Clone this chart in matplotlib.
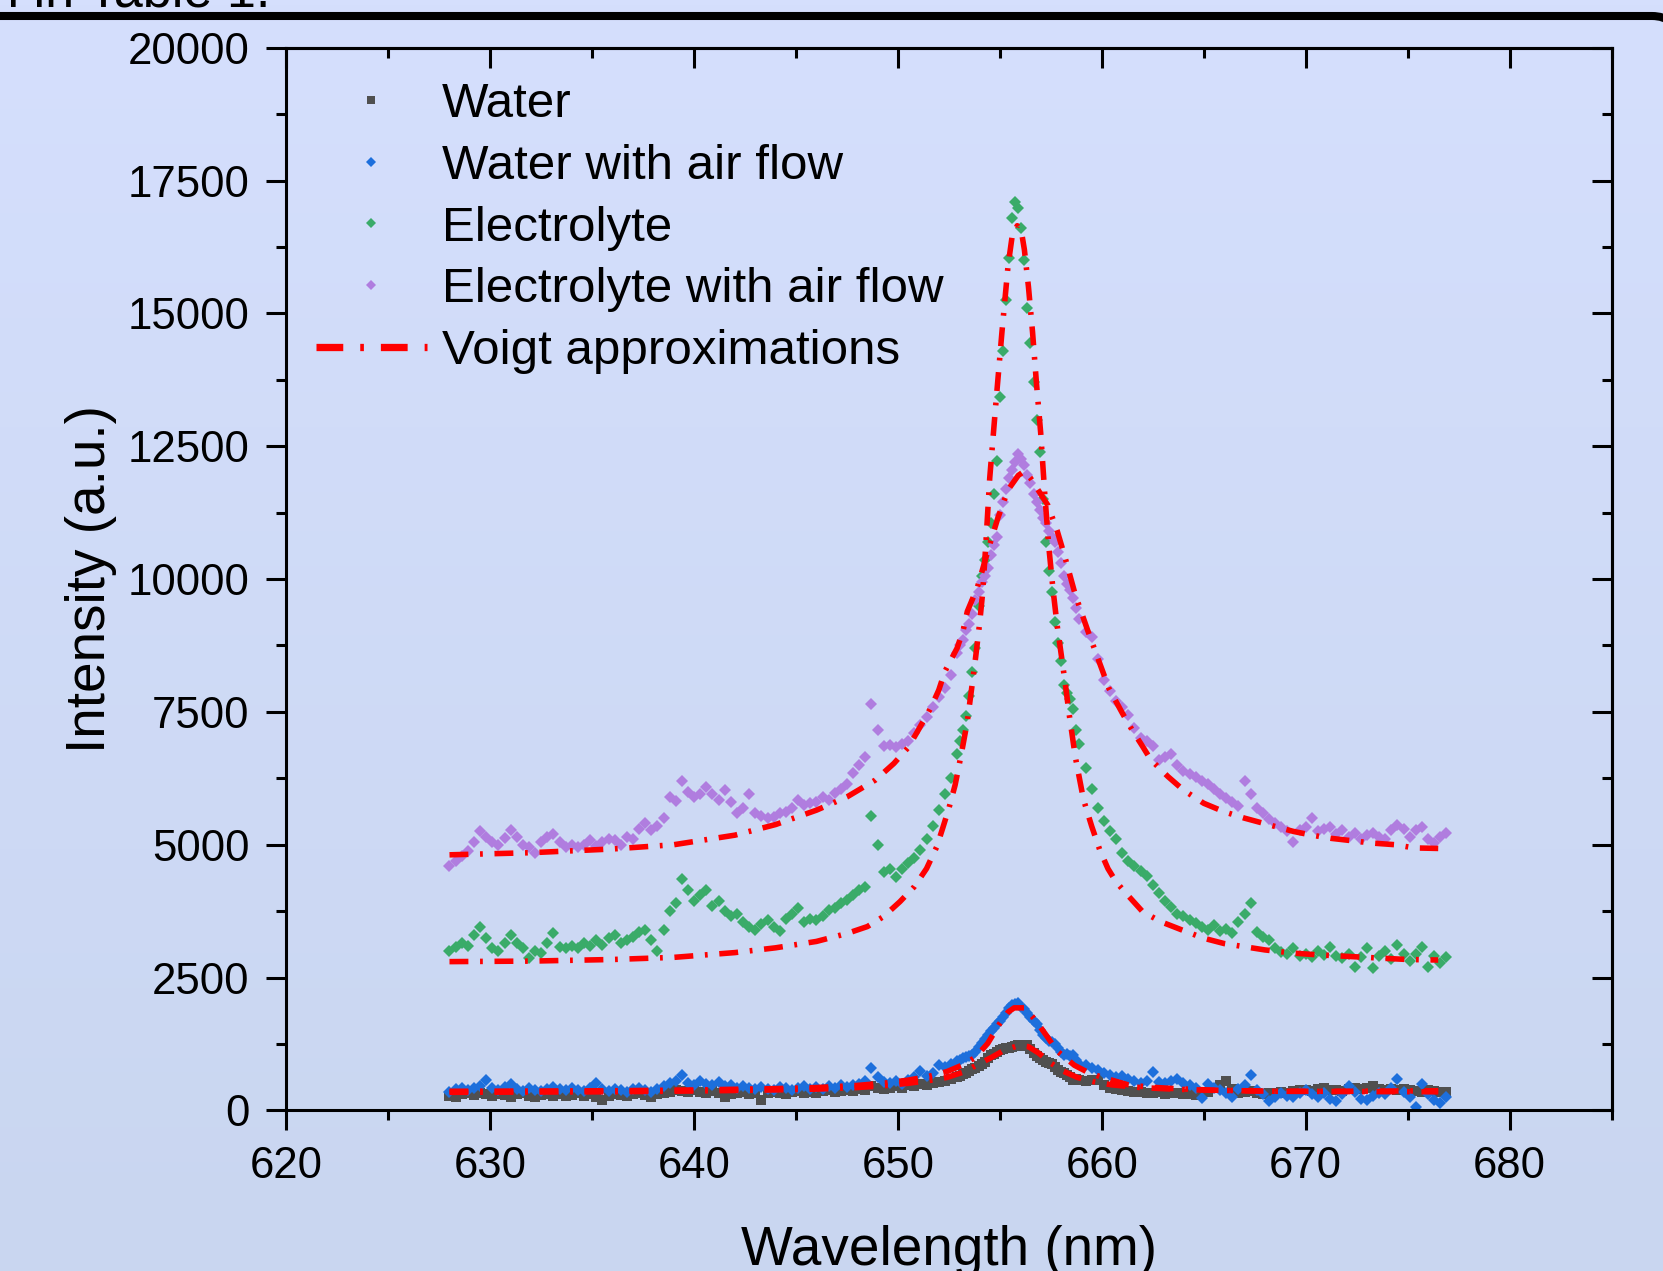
import matplotlib
matplotlib.use('Agg')
import matplotlib.pyplot as plt
import numpy as np
from matplotlib.lines import Line2D
from matplotlib.patches import PathPatch
from matplotlib.path import Path
from matplotlib.ticker import MultipleLocator

plt.rcParams['font.family'] = ['Liberation Sans', 'DejaVu Sans']

# wavelength grid of the measured spectra (nm)
wavelength = [
    628.0, 628.3, 628.6, 628.9, 629.2, 629.5, 629.8, 630.1, 630.4, 630.7,
    631.0, 631.3, 631.6, 631.9, 632.2, 632.5, 632.8, 633.1, 633.4, 633.7,
    634.0, 634.3, 634.6, 634.9, 635.2, 635.5, 635.8, 636.1, 636.4, 636.7,
    637.0, 637.3, 637.6, 637.9, 638.2, 638.5, 638.8, 639.1, 639.4, 639.7,
    640.0, 640.3, 640.6, 640.9, 641.2, 641.5, 641.8, 642.1, 642.4, 642.7,
    643.0, 643.3, 643.6, 643.9, 644.2, 644.5, 644.8, 645.1, 645.4, 645.7,
    646.0, 646.3, 646.6, 646.9, 647.2, 647.5, 647.8, 648.1, 648.4, 648.7,
    649.0, 649.3, 649.6, 649.9, 650.2, 650.5, 650.8, 651.1, 651.4, 651.7,
    652.0, 652.3, 652.6, 652.9,
    653.05, 653.2, 653.35, 653.5, 653.65, 653.8, 653.95, 654.1, 654.25, 654.4,
    654.55, 654.7, 654.85, 655.0, 655.15, 655.3, 655.45, 655.6, 655.75, 655.9,
    656.05, 656.2, 656.35, 656.5, 656.65, 656.8, 656.95, 657.1, 657.25, 657.4,
    657.55, 657.7, 657.85, 658.0, 658.15, 658.3, 658.45, 658.6, 658.75, 658.9,
    659.2, 659.5, 659.8, 660.1, 660.4, 660.7, 661.0, 661.3, 661.6, 661.9,
    662.2, 662.5, 662.8, 663.1, 663.4, 663.7, 664.0, 664.3, 664.6, 664.9,
    665.2, 665.5, 665.8, 666.1, 666.4, 666.7, 667.0, 667.3, 667.6, 667.9,
    668.2, 668.5, 668.8, 669.1, 669.4, 669.7, 670.0, 670.3, 670.6, 670.9,
    671.2, 671.5, 671.8, 672.1, 672.4, 672.7, 673.0, 673.3, 673.6, 673.9,
    674.2, 674.5, 674.8, 675.1, 675.4, 675.7, 676.0, 676.3, 676.6, 676.9,
]

water = [
    280, 250, 300, 320, 290, 330, 300, 270, 310, 290,
    260, 300, 320, 280, 250, 290, 310, 280, 300, 270,
    290, 320, 280, 300, 260, 200, 280, 310, 290, 270,
    300, 320, 290, 250, 300, 330, 350, 380, 360, 340,
    380, 350, 320, 360, 330, 250, 300, 320, 340, 300,
    330, 200, 320, 350, 330, 310, 340, 360, 330, 350,
    320, 360, 380, 350, 370, 390, 360, 400, 380, 450,
    430, 400, 420, 450, 430, 470, 450, 490, 470, 520,
    540, 560, 600, 620,
    640, 680, 700, 740, 770, 800, 830, 870, 920, 980,
    1040, 1070, 1100, 1130, 1150, 1170, 1180, 1200, 1220, 1240,
    1230, 1220, 1230, 1150, 1080, 1020, 990, 950, 920, 890,
    870, 820, 760, 720, 700, 660, 620, 580, 600, 570,
    560, 580, 570, 480, 420, 400, 380, 360, 350, 340,
    330, 320, 340, 310, 320, 330, 300, 310, 290, 330,
    350, 420, 480, 560, 400, 320, 340, 360, 330, 300,
    320, 330, 350, 320, 360, 380, 390, 370, 400, 420,
    390, 380, 360, 410, 430, 400, 420, 450, 410, 390,
    400, 380, 410, 390, 370, 350, 380, 360, 350, 340,
]

water_air = [
    350, 400, 420, 380, 430, 450, 570, 420, 380, 440,
    500, 400, 370, 420, 390, 360, 410, 440, 400, 380,
    420, 390, 370, 430, 510, 400, 360, 410, 380, 350,
    400, 420, 380, 340, 400, 450, 520, 560, 660, 520,
    480, 550, 500, 470, 530, 450, 480, 420, 460, 430,
    400, 440, 410, 380, 440, 420, 390, 430, 460, 410,
    440, 400, 450, 430, 470, 440, 480, 500, 560, 790,
    620, 540, 520, 560, 500, 580, 620, 750, 640, 700,
    850, 820, 880, 930,
    950, 980, 1000, 1030, 1045, 1100, 1200, 1270, 1350, 1420,
    1500, 1560, 1620, 1680, 1750, 1830, 1920, 1990, 2010, 2020,
    1950, 1900, 1830, 1760, 1690, 1620, 1520, 1420, 1360, 1310,
    1280, 1250, 1180, 1100, 1040, 1060, 1030, 1040, 950, 880,
    850, 800, 760, 700, 660, 620, 640, 590, 560, 510,
    560, 730, 540, 510, 560, 600, 520, 480, 420, 230,
    500, 420, 380, 330, 260, 400, 480, 670, 380, 300,
    170, 250, 320, 280, 250, 330, 390, 300, 260, 320,
    220, 170, 300, 450, 350, 220, 200, 280, 330, 300,
    420, 600, 350, 250, 60, 500, 300, 200, 140, 260,
]

electrolyte = [
    3000, 3080, 3150, 3100, 3300, 3450, 3250, 3050, 3000, 3150,
    3300, 3150, 3050, 2870, 3000, 2960, 3150, 3330, 3080, 3050,
    3100, 3060, 3150, 3100, 3200, 3120, 3250, 3300, 3150, 3200,
    3270, 3350, 3400, 3200, 3000, 3400, 3750, 3900, 4350, 4150,
    3950, 4050, 4150, 3850, 3950, 3750, 3650, 3700, 3550, 3450,
    3400, 3500, 3580, 3450, 3380, 3600, 3700, 3800, 3550, 3600,
    3580, 3650, 3770, 3800, 3900, 3960, 4050, 4150, 4200, 5550,
    5000, 4480, 4550, 4400, 4550, 4650, 4750, 4900, 5100, 5350,
    5650, 5950, 6250, 6700,
    6950, 7150, 7420, 7800, 8250, 8700, 9500, 10050, 10350, 10700,
    11050, 11600, 12230, 13430, 14300, 15250, 16050, 16800, 17100, 16980,
    16600, 16000, 15100, 14450, 13700, 13000, 12400, 11500, 10700, 10150,
    9750, 9200, 8800, 8450, 8000, 7850, 7750, 7550, 7150, 6900,
    6450, 6050, 5700, 5450, 5250, 5100, 4850, 4700, 4600, 4500,
    4420, 4250, 4100, 3950, 3820, 3700, 3650, 3580, 3520, 3450,
    3400, 3480, 3380, 3420, 3330, 3550, 3700, 3900, 3350, 3270,
    3200, 3050, 2980, 2950, 3050, 2900, 2950, 2880, 3000, 2930,
    3080, 2900, 2870, 2950, 2700, 2880, 3050, 2680, 2900, 3000,
    2850, 3120, 2950, 2820, 2950, 3080, 2700, 2900, 2780, 2880,
]

electrolyte_air = [
    4600, 4700, 4780, 4880, 5050, 5250, 5150, 5050, 5000, 5120,
    5280, 5150, 5000, 4950, 4840, 5050, 5150, 5200, 5050, 4960,
    5000, 4950, 5000, 5080, 4980, 5050, 5100, 5080, 5000, 5150,
    5100, 5300, 5400, 5280, 5350, 5500, 5900, 5820, 6200, 6000,
    5900, 5950, 6090, 5950, 5850, 6030, 5800, 5600, 5700, 5950,
    5600, 5550, 5500, 5530, 5600, 5620, 5700, 5840, 5750, 5780,
    5800, 5900, 5850, 5970, 6050, 6150, 6350, 6500, 6650, 7650,
    7150, 6850, 6880, 6840, 6900, 6960, 7100, 7250, 7400, 7600,
    7780, 7950, 8200, 8600,
    8750, 8850, 9050, 9150, 9350, 9600, 9750, 9950, 10050, 10200,
    10450, 10650, 10800, 11200, 11450, 11700, 11900, 12050, 12200, 12350,
    12250, 12150, 11950, 11800, 11600, 11450, 11300, 11150, 11050, 10900,
    10800, 10700, 10500, 10300, 10050, 9900, 9800, 9650, 9450, 9250,
    9000, 8900, 8500, 8100, 7900, 7700, 7600, 7450, 7200, 7000,
    6950, 6850, 6600, 6650, 6700, 6500, 6380, 6330, 6280, 6200,
    6150, 6050, 5950, 5880, 5800, 5720, 6200, 5950, 5700, 5600,
    5480, 5400, 5340, 5250, 5050, 5280, 5340, 5500, 5250, 5300,
    5340, 5200, 5280, 5150, 5230, 5100, 5180, 5220, 5150, 5100,
    5280, 5380, 5300, 5150, 5280, 5340, 5100, 5030, 5150, 5220,
]

# Voigt approximations
water_fit_x = [628.0, 632.0, 636.0, 640.0, 644.0, 646.0, 648.0, 649.5, 650.5, 651.5,
               652.4, 653.2, 653.9, 654.6, 655.2, 655.9, 656.4, 656.9, 657.5, 658.1,
               658.8, 659.6, 660.5, 661.9, 663.5, 665.2, 668.5, 672.0, 676.5]
water_fit_y = [340, 345, 350, 365, 385, 400, 430, 470, 510, 560,
               620, 720, 860, 1000, 1130, 1220, 1200, 1080, 890, 740,
               620, 540, 480, 430, 400, 380, 360, 355, 350]

water_air_fit_x = [628.0, 632.0, 636.0, 640.0, 644.0, 646.0, 648.0, 649.5, 650.5, 651.5,
                   652.4, 653.2, 653.8, 654.4, 655.0, 655.4, 655.7, 656.2, 656.6, 657.0,
                   657.3, 657.8, 658.65, 659.3, 659.95, 661.3, 662.3, 663.55, 665.5, 668.5,
                   672.0, 676.5]
water_air_fit_y = [360, 365, 370, 385, 410, 430, 470, 520, 570, 640,
                   730, 860, 1000, 1260, 1640, 1850, 1930, 1930, 1760, 1560,
                   1400, 1120, 850, 720, 630, 480, 440, 410, 380, 360,
                   360, 370]

electrolyte_fit_x = [628.0, 632.0, 636.0, 639.0, 642.0, 644.0, 646.0, 647.5, 648.5, 649.3,
                     650.1, 650.8, 651.4, 651.9, 652.2, 652.5, 652.8, 653.0, 653.2, 653.4,
                     653.6, 653.8, 654.0, 654.15, 654.3, 654.5, 654.8, 655.1, 655.4, 655.6,
                     655.85, 656.05, 656.2, 656.4, 656.6, 656.8, 657.0, 657.2, 657.4, 657.6,
                     657.8, 658.0, 658.2, 658.4, 658.7, 659.1, 659.5, 659.9, 660.3, 660.7,
                     661.2, 662.0, 662.9, 663.9, 665.0, 666.0, 667.0, 668.0, 669.4, 670.5,
                     672.0, 673.7, 675.0, 676.5]
electrolyte_fit_y = [2800, 2810, 2840, 2880, 2970, 3060, 3180, 3330, 3460, 3650,
                     3930, 4210, 4550, 4960, 5320, 5690, 6120, 6500, 6900, 7320,
                     7900, 8500, 9150, 9730, 10600, 11900, 13300, 14650, 15900, 16450,
                     16650, 16550, 16200, 15500, 14650, 13650, 12750, 11600, 10600, 9820,
                     9150, 8600, 8050, 7450, 6650, 5850, 5350, 4900, 4550, 4300,
                     4080, 3740, 3550, 3400, 3240, 3140, 3080, 3020, 2960, 2930,
                     2900, 2865, 2840, 2830]

electrolyte_air_fit_x = [628.0, 632.0, 636.0, 639.0, 642.0, 644.0, 646.0, 647.5, 648.9, 649.8,
                         650.5, 651.0, 651.6, 652.0, 652.3, 652.9, 653.2, 653.4, 653.9, 654.5,
                         654.9, 655.4, 655.9, 656.2, 656.5, 657.0, 657.35, 657.8, 658.2, 658.7,
                         659.3, 659.9, 660.35, 661.0, 661.5, 662.0, 662.4, 663.25, 664.0, 665.0,
                         666.0, 667.0, 669.4, 670.3, 671.25, 673.3, 674.4, 675.3, 676.5]
electrolyte_air_fit_y = [4810, 4850, 4920, 5000, 5180, 5380, 5650, 5900, 6220, 6530,
                         6830, 7160, 7570, 7910, 8260, 8700, 9040, 9390, 9850, 10650,
                         11150, 11680, 11950, 12030, 11900, 11600, 11390, 10920, 10400, 9700,
                         9040, 8410, 7940, 7480, 7150, 6850, 6600, 6280, 6030, 5780,
                         5620, 5500, 5250, 5180, 5120, 5030, 5000, 4940, 4930]

labels = ['Water', 'Water with air flow', 'Electrolyte', 'Electrolyte with air flow',
          'Voigt approximations']
x_ticks = [620, 630, 640, 650, 660, 670, 680]
y_ticks = [0, 2500, 5000, 7500, 10000, 12500, 15000, 17500, 20000]

W, H = 1663, 1271
fig = plt.figure(figsize=(W / 100, H / 100), dpi=100)

# screenshot background: soft blue gradient, in pixel coordinates
bg = fig.add_axes([0, 0, 1, 1], zorder=-10)
top_c = np.array([213, 223, 253]) / 255
bot_c = np.array([201, 214, 240]) / 255
g = np.linspace(0, 1, 256).reshape(-1, 1, 1)
bg.imshow(top_c * (1 - g) + bot_c * g, aspect='auto', extent=[0, W, 0, H])
bg.set_xlim(0, W)
bg.set_ylim(0, H)
bg.axis('off')

# top edge of the surrounding panel with its rounded right corner
yb = H - 16
frame_path = Path([(-10, yb), (1652, yb), (1676, yb), (1676, yb - 24), (1676, yb - 200)],
                  [Path.MOVETO, Path.LINETO, Path.CURVE3, Path.CURVE3, Path.LINETO])
bg.add_patch(PathPatch(frame_path, fill=False, lw=5.8, ec='black'))
fig.text(-0.006, 1 - 6.5 / H, 'n in Table 1.', fontsize=37.5, va='baseline', ha='left')

ax = fig.add_axes([286.4 / W, (H - 1110.4) / H, 1325.1 / W, 1062.7 / H])
ax.set_facecolor('none')

ax.plot(wavelength, water, ls='none', marker='s', ms=6.8, mew=0, color='#505050', label=labels[0])
ax.plot(wavelength, water_air, ls='none', marker='D', ms=6.5, mew=0, color='#1d6fdc', label=labels[1])
ax.plot(wavelength, electrolyte, ls='none', marker='D', ms=6.5, mew=0, color='#3aab69', label=labels[2])
ax.plot(wavelength, electrolyte_air, ls='none', marker='D', ms=6.5, mew=0, color='#b07ddf', label=labels[3])

fit_style = dict(color='red', lw=4, dashes=(3.4, 2.1, 0.5, 2.1))
ax.plot(water_fit_x, water_fit_y, **fit_style)
ax.plot(water_air_fit_x, water_air_fit_y, **fit_style)
ax.plot(electrolyte_fit_x, electrolyte_fit_y, **fit_style)
ax.plot(electrolyte_air_fit_x, electrolyte_air_fit_y, **fit_style)

ax.set_xlim(620, 685)
ax.set_ylim(0, 20000)
ax.set_xticks(x_ticks)
ax.set_yticks(y_ticks)
ax.xaxis.set_minor_locator(MultipleLocator(5))
ax.yaxis.set_minor_locator(MultipleLocator(1250))
ax.tick_params(which='both', direction='out', width=2.2, labelsize=31.5)
ax.tick_params(which='major', length=14.4)
ax.tick_params(which='minor', length=7.2)
ax.tick_params(axis='x', pad=11)
ax.tick_params(axis='y', pad=12)
for s in ax.spines.values():
    s.set_linewidth(2.2)

# inward ticks on top and right
top = ax.secondary_xaxis('top')
top.xaxis.set_major_locator(MultipleLocator(10))
top.xaxis.set_minor_locator(MultipleLocator(5))
top.tick_params(which='both', direction='in', width=2.2, labeltop=False)
top.tick_params(which='major', length=14.4)
top.tick_params(which='minor', length=7.2)
right = ax.secondary_yaxis('right')
right.yaxis.set_major_locator(MultipleLocator(2500))
right.yaxis.set_minor_locator(MultipleLocator(1250))
right.tick_params(which='both', direction='in', width=2.2, labelright=False)
right.tick_params(which='major', length=14.4)
right.tick_params(which='minor', length=7.2)
for sec in (top, right):
    for s in sec.spines.values():
        s.set_linewidth(2.2)

ax.set_xlabel('Wavelength (nm)', fontsize=39.5)
ax.xaxis.set_label_coords(0.5, -0.108)
ax.set_ylabel('Intensity (a.u.)', fontsize=39.5)
ax.yaxis.set_label_coords(-0.128, 0.5)

voigt_handle = Line2D([], [], color='red', lw=5.25, dashes=(3.67, 2.33, 0.5, 2.33))
handles = ax.get_lines()[:4] + [voigt_handle]
ax.legend(handles=handles, labels=labels, loc='upper left', bbox_to_anchor=(0.0223, 0.9677),
          frameon=False, fontsize=35.5, handlelength=2.25, handletextpad=0.3,
          labelspacing=0.34, borderpad=0, borderaxespad=0, markerscale=0.8, numpoints=1)

fig.savefig('out.png', dpi=100)
